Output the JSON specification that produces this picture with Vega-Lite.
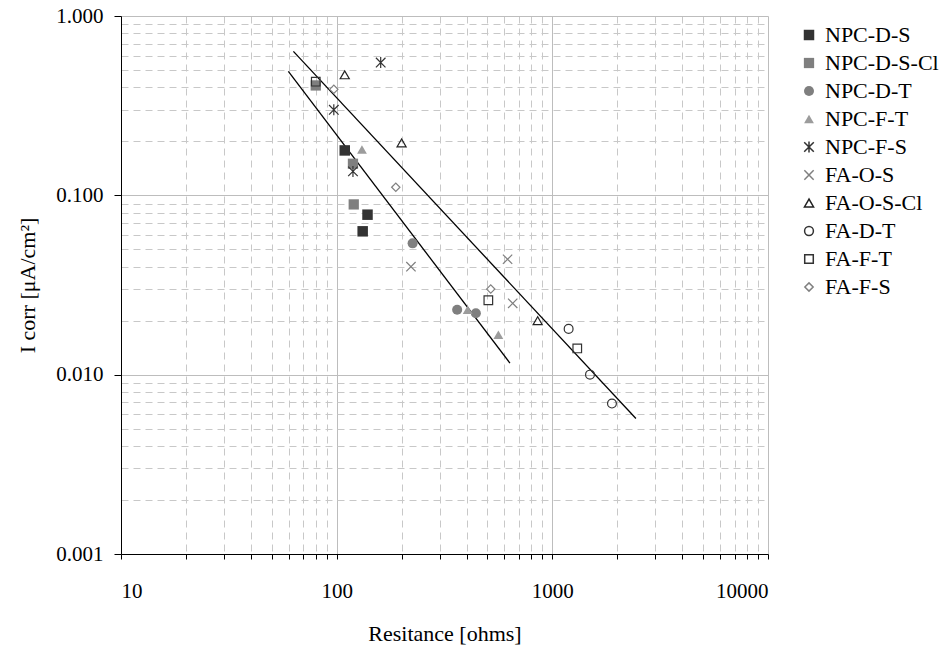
{
  "$schema": "https://vega.github.io/schema/vega-lite/v6.json",
  "width": 647,
  "height": 538,
  "autosize": {"type": "none"},
  "padding": {"left": 121, "top": 16, "right": 176, "bottom": 96},
  "background": "white",
  "config": {
    "font": "Liberation Serif",
    "view": {"stroke": null},
    "axis": {
      "labelFont": "Liberation Serif",
      "titleFont": "Liberation Serif",
      "labelFontSize": 21,
      "titleFontSize": 22,
      "titleFontWeight": "normal",
      "labelColor": "black",
      "titleColor": "black",
      "domainColor": "black",
      "domainWidth": 1,
      "tickColor": "black",
      "labelOverlap": false
    }
  },
  "datasets": {
    "points": [
      {"series": "NPC-D-S", "r": 109, "i": 0.178},
      {"series": "NPC-D-S", "r": 139, "i": 0.078},
      {"series": "NPC-D-S", "r": 132, "i": 0.063},
      {"series": "NPC-D-S-Cl", "r": 80, "i": 0.41},
      {"series": "NPC-D-S-Cl", "r": 119, "i": 0.15},
      {"series": "NPC-D-S-Cl", "r": 120, "i": 0.089},
      {"series": "NPC-D-T", "r": 225, "i": 0.054},
      {"series": "NPC-D-T", "r": 362, "i": 0.023},
      {"series": "NPC-D-T", "r": 442, "i": 0.022},
      {"series": "NPC-F-T", "r": 131, "i": 0.18},
      {"series": "NPC-F-T", "r": 405, "i": 0.023},
      {"series": "NPC-F-T", "r": 562, "i": 0.0167},
      {"series": "NPC-F-S", "r": 160, "i": 0.55},
      {"series": "NPC-F-S", "r": 97, "i": 0.30},
      {"series": "NPC-F-S", "r": 119, "i": 0.136},
      {"series": "FA-O-S", "r": 221, "i": 0.040},
      {"series": "FA-O-S", "r": 620, "i": 0.044},
      {"series": "FA-O-S", "r": 655, "i": 0.025},
      {"series": "FA-O-S-Cl", "r": 109, "i": 0.47},
      {"series": "FA-O-S-Cl", "r": 200, "i": 0.196},
      {"series": "FA-O-S-Cl", "r": 855, "i": 0.020},
      {"series": "FA-D-T", "r": 1190, "i": 0.018},
      {"series": "FA-D-T", "r": 1495, "i": 0.010},
      {"series": "FA-D-T", "r": 1890, "i": 0.0069},
      {"series": "FA-F-T", "r": 80, "i": 0.43},
      {"series": "FA-F-T", "r": 505, "i": 0.026},
      {"series": "FA-F-T", "r": 1305, "i": 0.014},
      {"series": "FA-F-S", "r": 97, "i": 0.39},
      {"series": "FA-F-S", "r": 188, "i": 0.111},
      {"series": "FA-F-S", "r": 518, "i": 0.030}
    ],
    "fits": [
      {"fit": "lower", "r": 59.7, "i": 0.491},
      {"fit": "lower", "r": 636, "i": 0.0116},
      {"fit": "upper", "r": 63, "i": 0.635},
      {"fit": "upper", "r": 2441, "i": 0.0057}
    ]
  },
  "encoding": {
    "x": {
      "field": "r",
      "type": "quantitative",
      "title": "Resitance [ohms]",
      "scale": {"type": "log", "domain": [10, 10000], "nice": false},
      "axis": {
        "values": [10, 20, 30, 40, 50, 60, 70, 80, 90, 100, 200, 300, 400, 500, 600, 700, 800, 900, 1000, 2000, 3000, 4000, 5000, 6000, 7000, 8000, 9000, 10000],
        "format": "d",
        "labelExpr": "abs(log(datum.value)/LN10 - round(log(datum.value)/LN10)) < 1e-6 ? datum.label : ''",
        "tickSize": 5,
        "labelPadding": 21,
        "titlePadding": 22,
        "gridColor": {"condition": {"test": "abs(log(datum.value)/LN10 - round(log(datum.value)/LN10)) < 1e-6", "value": "#bdbdbd"}, "value": "#c8c8c8"},
        "gridDash": {"condition": {"test": "abs(log(datum.value)/LN10 - round(log(datum.value)/LN10)) < 1e-6", "value": []}, "value": [7, 5]}
      }
    },
    "y": {
      "field": "i",
      "type": "quantitative",
      "title": "I corr [μA/cm²]",
      "scale": {"type": "log", "domain": [0.001, 1], "nice": false},
      "axis": {
        "values": [0.001, 0.002, 0.003, 0.004, 0.005, 0.006, 0.007, 0.008, 0.009, 0.01, 0.02, 0.03, 0.04, 0.05, 0.06, 0.07, 0.08, 0.09, 0.1, 0.2, 0.3, 0.4, 0.5, 0.6, 0.7, 0.8, 0.9, 1],
        "format": ".3f",
        "labelExpr": "abs(log(datum.value)/LN10 - round(log(datum.value)/LN10)) < 1e-6 ? datum.label : ''",
        "tickSize": {"condition": {"test": "abs(log(datum.value)/LN10 - round(log(datum.value)/LN10)) < 1e-6", "value": 7}, "value": 0},
        "labelPadding": 11,
        "titlePadding": 16,
        "gridColor": {"condition": {"test": "abs(log(datum.value)/LN10 - round(log(datum.value)/LN10)) < 1e-6", "value": "#bdbdbd"}, "value": "#c8c8c8"},
        "gridDash": {"condition": {"test": "abs(log(datum.value)/LN10 - round(log(datum.value)/LN10)) < 1e-6", "value": []}, "value": [7, 5]}
      }
    }
  },
  "layer": [
    {
      "data": {"name": "fits"},
      "mark": {"type": "line", "color": "black", "strokeWidth": 1.3, "clip": true},
      "encoding": {"detail": {"field": "fit", "type": "nominal"}}
    },
    {
      "data": {"name": "points"},
      "mark": {"type": "point", "filled": true, "opacity": 1, "strokeWidth": 1.2},
      "encoding": {
        "shape": {
          "field": "series",
          "type": "nominal",
          "scale": {
            "domain": ["NPC-D-S", "NPC-D-S-Cl", "NPC-D-T", "NPC-F-T", "NPC-F-S", "FA-O-S", "FA-O-S-Cl", "FA-D-T", "FA-F-T", "FA-F-S"],
            "range": ["square", "square", "circle", "triangle-up", "M-1,-1L1,1M-1,1L1,-1M0,-1.15L0,1.15", "M-1,-1L1,1M-1,1L1,-1", "triangle-up", "circle", "square", "diamond"]
          },
          "legend": {
            "title": null,
            "orient": "none",
            "legendX": 677,
            "legendY": 8,
            "labelFont": "Liberation Serif",
            "labelFontSize": 22,
            "labelColor": "black",
            "labelOffset": 5,
            "rowPadding": 6,
            "symbolOpacity": 1
          }
        },
        "fill": {
          "field": "series",
          "type": "nominal",
          "scale": {
            "domain": ["NPC-D-S", "NPC-D-S-Cl", "NPC-D-T", "NPC-F-T", "NPC-F-S", "FA-O-S", "FA-O-S-Cl", "FA-D-T", "FA-F-T", "FA-F-S"],
            "range": ["#333333", "#7f7f7f", "#7f7f7f", "#9c9c9c", "transparent", "transparent", "transparent", "transparent", "transparent", "transparent"]
          }
        },
        "stroke": {
          "field": "series",
          "type": "nominal",
          "scale": {
            "domain": ["NPC-D-S", "NPC-D-S-Cl", "NPC-D-T", "NPC-F-T", "NPC-F-S", "FA-O-S", "FA-O-S-Cl", "FA-D-T", "FA-F-T", "FA-F-S"],
            "range": ["transparent", "transparent", "transparent", "transparent", "#333333", "#7f7f7f", "#222222", "#333333", "#333333", "#808080"]
          }
        },
        "size": {
          "field": "series",
          "type": "nominal",
          "scale": {
            "domain": ["NPC-D-S", "NPC-D-S-Cl", "NPC-D-T", "NPC-F-T", "NPC-F-S", "FA-O-S", "FA-O-S-Cl", "FA-D-T", "FA-F-T", "FA-F-S"],
            "range": [110, 69, 100, 169, 156, 100, 64, 150, 100, 81]
          }
        }
      }
    }
  ]
}
